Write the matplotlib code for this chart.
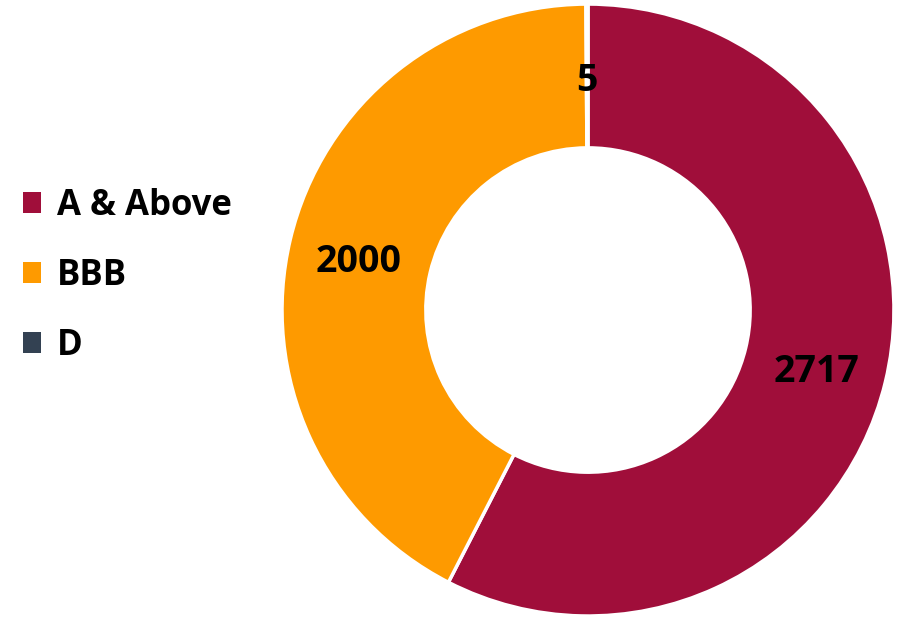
import matplotlib
matplotlib.use("Agg")
import numpy as np
import matplotlib.pyplot as plt
from matplotlib.patches import Patch

plt.rcParams['font.family'] = ['Open Sans', 'DejaVu Sans']

# rating buckets and counts
ratings = ["A & Above", "BBB", "D"]
counts = [2717, 2000, 5]
colors = ["#A00E3A", "#FE9A00", "#334152"]

fig = plt.figure(figsize=(9.03, 6.2), dpi=100)
ax = fig.add_axes([0.3123, 0.00645, 0.6777, 0.987])

wedges, _ = ax.pie(counts, colors=colors, startangle=90, counterclock=False,
                   radius=1.0, wedgeprops=dict(width=0.47, edgecolor="white", linewidth=2.5))

# value labels sit mid-ring, nudged a touch below centre
for w, v in zip(wedges, counts):
    theta = np.deg2rad((w.theta1 + w.theta2) / 2.0)
    r = 0.77
    x = r * np.cos(theta)
    y = r * np.sin(theta) - 0.022
    ax.text(x, y, str(v), ha="center", va="center", fontsize=27, fontweight="bold", color="black")

ax.set_xlim(-1, 1)
ax.set_ylim(-1, 1)
ax.axis("off")

handles = [Patch(facecolor=c, edgecolor="none") for c in colors]
fig.legend(handles, ratings, loc="center left", bbox_to_anchor=(0.0255, 0.555),
           frameon=False, prop=dict(size=25, weight="bold"), borderaxespad=0, borderpad=0,
           handlelength=0.52, handleheight=0.52, handletextpad=0.46, labelspacing=0.98)

fig.savefig("out.png", dpi=100)
